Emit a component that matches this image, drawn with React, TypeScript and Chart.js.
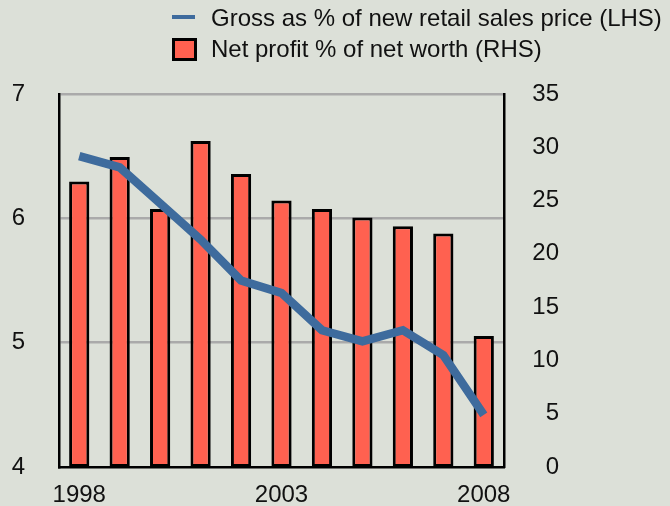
import React, { useEffect, useRef } from "react";
import { Chart, registerables } from "chart.js";

Chart.register(...registerables);

const years = ["1998", "1999", "2000", "2001", "2002", "2003", "2004", "2005", "2006", "2007", "2008"];
const shownYears = ["1998", "2003", "2008"];
const grossPct = [6.5, 6.41, 6.12, 5.83, 5.5, 5.4, 5.1, 5.01, 5.1, 4.9, 4.42];
const netProfitPct = [26.8, 29.1, 24.2, 30.6, 27.5, 25.0, 24.2, 23.4, 22.6, 21.9, 12.3];
const lineLabel = "Gross as % of new retail sales price (LHS)";
const barLabel = "Net profit % of net worth (RHS)";

const BG = "#dce0d8";
const RED = "#ff6150";
const BLUE = "#3e6b9d";
const FONT = "'Liberation Sans', Arial, Helvetica, sans-serif";

export default function App() {
  const ref = useRef<HTMLCanvasElement | null>(null);

  useEffect(() => {
    if (!ref.current) return;
    const chart = new Chart(ref.current, {
      type: "bar",
      data: {
        labels: years,
        datasets: [
          {
            type: "line",
            label: lineLabel,
            data: grossPct,
            yAxisID: "y",
            borderColor: BLUE,
            borderWidth: 8.5,
            pointRadius: 0,
            tension: 0,
            order: 0,
          } as any,
          {
            type: "bar",
            label: barLabel,
            data: netProfitPct,
            yAxisID: "y1",
            backgroundColor: RED,
            borderColor: "#000",
            borderWidth: 3,
            borderSkipped: false,
            categoryPercentage: 1,
            barPercentage: 0.5,
            order: 1,
          } as any,
        ],
      },
      options: {
        responsive: false,
        animation: false,
        maintainAspectRatio: false,
        layout: { padding: { top: 94, left: 0, right: 111, bottom: 0 } },
        plugins: { legend: { display: false }, tooltip: { enabled: false } },
        scales: {
          x: {
            grid: { display: false, drawTicks: false },
            border: { display: true, color: "#000", width: 2.5 },
            ticks: {
              autoSkip: false,
              maxRotation: 0,
              padding: 14,
              color: "#111",
              font: { family: FONT, size: 24 },
              callback: function (this: any, _v: any, i: number) {
                const l = years[i];
                return shownYears.includes(l) ? l : "";
              },
            },
            afterFit: (s: any) => {
              s.height = 50;
            },
          },
          y: {
            position: "left",
            min: 4,
            max: 7,
            ticks: {
              stepSize: 1,
              padding: 34,
              color: "#111",
              font: { family: FONT, size: 24 },
            },
            grid: {
              drawTicks: false,
              lineWidth: 2.5,
              color: (ctx: any) => (ctx.tick && ctx.tick.value === 4 ? "rgba(0,0,0,0)" : "#aaaaaa"),
            },
            border: { display: true, color: "#000", width: 2.5 },
            afterFit: (s: any) => {
              s.width = 59;
            },
          },
          y1: {
            position: "right",
            min: 0,
            max: 35,
            ticks: {
              stepSize: 5,
              padding: 29,
              crossAlign: "far",
              color: "#111",
              font: { family: FONT, size: 24 },
            },
            grid: { display: false, drawTicks: false },
            border: { display: true, color: "#000", width: 2.5 },
            afterFit: (s: any) => {
              s.width = 55;
            },
          },
        },
      },
    });
    return () => chart.destroy();
  }, []);

  return (
    <div
      style={{
        position: "fixed",
        left: 0,
        top: 0,
        width: 670,
        height: 506,
        background: BG,
        overflow: "hidden",
        fontFamily: FONT,
      }}
    >
      <canvas ref={ref} width={670} height={517} style={{ position: "absolute", left: 0, top: 0 }} />
      <div style={{ position: "absolute", left: 172, top: 15, width: 23, height: 4, background: BLUE }} />
      <div
        style={{ position: "absolute", left: 211, top: 3, fontSize: 24, lineHeight: "30px", color: "#111", whiteSpace: "nowrap" }}
      >
        {lineLabel}
      </div>
      <div
        style={{
          position: "absolute",
          left: 172,
          top: 38,
          width: 19,
          height: 17,
          background: RED,
          border: "3px solid #000",
        }}
      />
      <div
        style={{ position: "absolute", left: 211, top: 34, fontSize: 24, lineHeight: "30px", color: "#111", whiteSpace: "nowrap" }}
      >
        {barLabel}
      </div>
    </div>
  );
}
